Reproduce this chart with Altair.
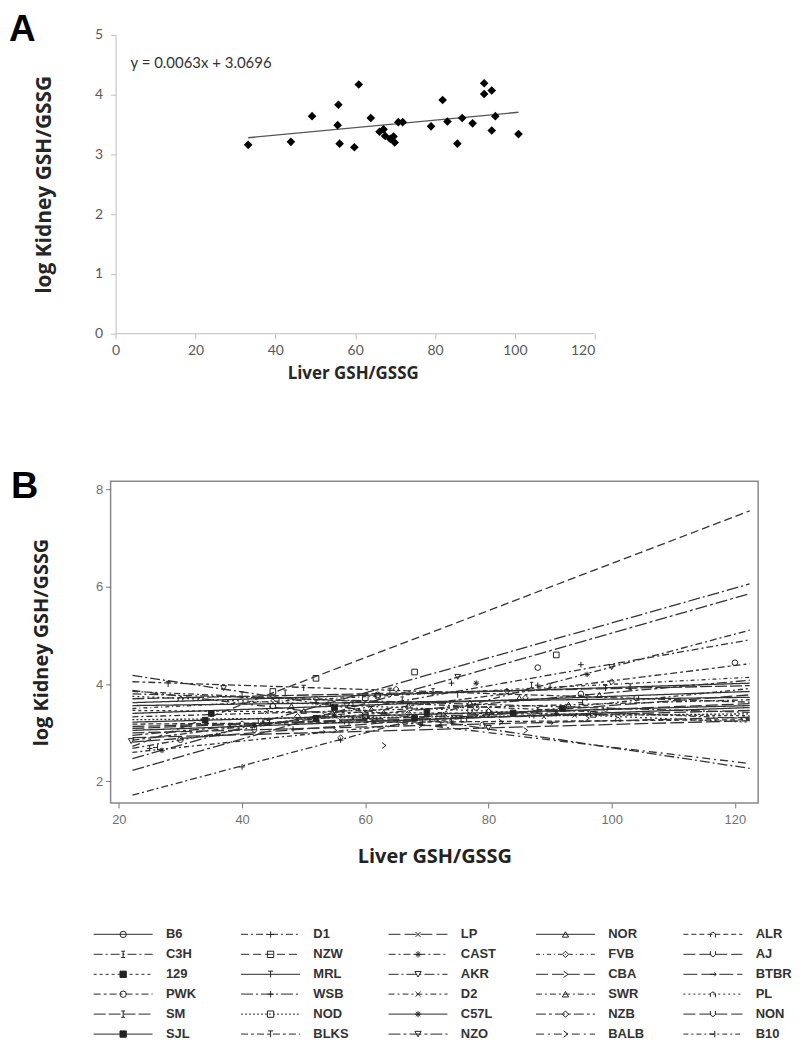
import altair as alt
import pandas as pd

FONT = "Lato"
TITLE_FONT = "Open Sans"
LETTER_FONT = "Liberation Sans"

# ---------------- Panel A data ----------------
a_liver = [33.2, 43.9, 49.2, 55.8, 55.6, 56.1, 59.8, 60.9, 63.9, 66.1, 67.1, 67.5, 68.8, 69.6, 69.9,
           70.8, 71.9, 79.0, 81.9, 83.1, 85.6, 86.8, 89.4, 92.3, 92.3, 94.2, 95.1, 94.2, 100.9]
a_kidney = [3.16, 3.21, 3.64, 3.83, 3.49, 3.18, 3.12, 4.17, 3.61, 3.38, 3.42, 3.31, 3.26, 3.30, 3.20,
            3.54, 3.54, 3.47, 3.91, 3.55, 3.18, 3.61, 3.52, 4.19, 4.01, 4.07, 3.64, 3.40, 3.34]
a_slope = 0.0063
a_intercept = 3.0696
a_equation = "y = 0.0063x + 3.0696"
a_xticks = [0, 20, 40, 60, 80, 100, 120]
a_yticks = [0, 1, 2, 3, 4, 5]

# ---------------- Panel B data ----------------
strains = ["B6", "C3H", "129", "PWK", "SM", "SJL",
           "D1", "NZW", "MRL", "WSB", "NOD", "BLKS",
           "LP", "CAST", "AKR", "D2", "C57L", "NZO",
           "NOR", "FVB", "CBA", "SWR", "NZB", "BALB",
           "ALR", "AJ", "BTBR", "PL", "NON", "B10"]
b_xticks = [20, 40, 60, 80, 100, 120]
b_yticks = [2, 4, 6, 8]
fit_x = [22.2, 122.4]
fit_left = [3.56, 3.80, 3.46, 2.85, 3.70, 3.22,
            1.72, 2.72, 3.62, 2.47, 3.27, 4.05,
            3.13, 2.68, 4.18, 3.85, 3.05, 2.23,
            3.40, 3.50, 3.00, 3.33, 2.95, 3.87,
            3.18, 3.09, 2.90, 3.75, 2.81, 2.60]
fit_right = [3.73, 3.42, 3.35, 4.42, 3.97, 3.56,
             5.11, 7.56, 4.02, 6.06, 3.39, 3.63,
             3.46, 4.91, 2.27, 3.29, 3.52, 5.86,
             3.85, 4.14, 3.32, 3.68, 4.08, 2.37,
             3.27, 3.60, 3.25, 3.22, 3.78, 3.91]

b_points = {
    "B6": [(45, 3.55), (62, 3.75), (78, 3.52), (95, 3.80)],
    "C3H": [(40, 3.78), (58, 3.60), (71, 3.85), (88, 3.46)],
    "129": [(35, 3.40), (55, 3.52), (68, 3.30), (84, 3.41)],
    "PWK": [(30, 2.86), (62, 3.78), (88, 4.34), (120, 4.44)],
    "SM": [(47, 3.82), (66, 3.68), (87, 3.98), (103, 3.95)],
    "SJL": [(34, 3.26), (52, 3.30), (70, 3.42), (92, 3.50)],
    "D1": [(40, 2.30), (56, 2.85), (70, 3.35), (88, 3.98)],
    "NZW": [(45, 3.85), (52, 4.12), (60, 3.72), (68, 4.25), (91, 4.60)],
    "MRL": [(46, 3.66), (64, 3.86), (90, 3.96), (99, 3.92)],
    "WSB": [(25, 2.68), (52, 3.62), (74, 4.02), (95, 4.40)],
    "NOD": [(44, 3.22), (60, 3.35), (76, 3.28), (97, 3.38)],
    "BLKS": [(28, 4.00), (50, 3.92), (75, 3.78), (96, 3.72)],
    "LP": [(38, 3.14), (56, 3.25), (73, 3.38), (89, 3.33)],
    "CAST": [(27, 2.64), (55, 3.36), (78, 4.02), (96, 4.20)],
    "AKR": [(37, 3.92), (55, 3.45), (68, 3.28), (80, 3.10)],
    "D2": [(45, 3.70), (61, 3.52), (80, 3.50), (94, 3.36)],
    "C57L": [(42, 3.15), (58, 3.28), (74, 3.22), (91, 3.40)],
    "NZO": [(22, 2.83), (57, 3.56), (75, 4.15), (100, 4.35)],
    "NOR": [(48, 3.55), (67, 3.56), (85, 3.72), (98, 3.78)],
    "FVB": [(52, 3.70), (65, 3.90), (83, 3.86), (100, 4.05)],
    "CBA": [(55, 3.05), (69, 3.16), (82, 3.22), (96, 3.30)],
    "SWR": [(50, 3.45), (63, 3.42), (77, 3.62), (93, 3.58)],
    "NZB": [(49, 3.34), (56, 2.90), (67, 3.40), (86, 3.72)],
    "BALB": [(44, 3.45), (63, 2.74), (72, 3.20), (86, 3.05)],
    "ALR": [(40, 3.20), (57, 3.22), (79, 3.18), (101, 3.28)],
    "AJ": [(43, 3.22), (60, 3.30), (77, 3.44), (99, 3.48)],
    "BTBR": [(36, 2.96), (53, 3.02), (72, 3.15), (90, 3.20)],
    "PL": [(30, 3.70), (54, 3.60), (72, 3.38), (87, 3.35)],
    "NON": [(42, 3.05), (61, 3.30), (80, 3.42), (104, 3.70)],
    "B10": [(26, 2.70), (48, 3.08), (69, 3.20), (95, 3.62)],
}

# ---------------- styles ----------------
dashes = [[1, 0], [9, 3, 2, 3], [3, 3], [7, 3, 3, 3], [12, 3], [1, 0],
          [7, 3, 2, 3], [8, 4], [1, 0], [12, 3, 2, 3], [2, 2], [7, 3, 3, 3],
          [12, 4], [7, 3, 2, 3], [10, 3, 2, 3], [6, 3, 2, 3], [1, 0], [12, 3, 3, 3],
          [1, 0], [4, 3, 1, 3], [12, 4], [6, 3, 2, 3], [10, 3, 3, 3], [8, 4, 2, 4],
          [5, 3], [12, 4], [14, 4], [2, 3], [12, 4], [5, 3, 2, 3]]
IBEAM = "M-0.6,-1H0.6M0,-1V1M-0.6,1H0.6"
PLUS = "M-1,0H1M0,-1V1"
TEE = "M-0.8,-1H0.8M0,-1V1"
XMARK = "M-0.8,-0.8L0.8,0.8M-0.8,0.8L0.8,-0.8"
AST = "M-1,0H1M0,-1V1M-0.7,-0.7L0.7,0.7M-0.7,0.7L0.7,-0.7"
GT = "M-0.6,-1L0.8,0L-0.6,1"
NHOOK = "M-0.8,0.8V-0.1Q0,-1.3,0.8,-0.1V1"
CUP = "M-0.8,-1V0.1Q0,1.4,0.8,0.1V-1"
ARROW = "M-1,0H1M0.5,-0.6L1,0L0.5,0.6"
TACK = "M-1,0H0.6M0.6,-1V1"
shapes = ["circle", IBEAM, "square", "circle", IBEAM, "square",
          PLUS, "square", TEE, PLUS, "square", TEE,
          XMARK, AST, "triangle-down", XMARK, AST, "triangle-down",
          "triangle-up", "diamond", GT, "triangle-up", "diamond", GT,
          NHOOK, CUP, ARROW, NHOOK, CUP, TACK]
fills = ["#222" if s in ("129", "SJL") else "transparent" for s in strains]

dash_scale = alt.Scale(domain=strains, range=dashes)
shape_scale = alt.Scale(domain=strains, range=shapes)
fill_scale = alt.Scale(domain=strains, range=fills)

# ---------------- Panel A ----------------
dfa = pd.DataFrame({"liver": a_liver, "kidney": a_kidney})
xa = [min(a_liver), max(a_liver)]
dfa_line = pd.DataFrame({"liver": xa, "kidney": [a_slope * v + a_intercept for v in xa]})
dfa_axis = pd.DataFrame({"liver": [a_xticks[0]], "liver2": [a_xticks[-1]], "kidney": [a_yticks[0]]})

ax_common = dict(grid=False, domainColor="#bfbfbf", tickColor="#bfbfbf", tickSize=5,
                 labelFontSize=14, labelColor="#595959", labelFont=FONT,
                 titleFont=TITLE_FONT, titleFontWeight="bold", titleColor="#262626")
xA = alt.X("liver:Q", scale=alt.Scale(domain=[-1.25, 120], nice=False, zero=False),
           axis=alt.Axis(values=a_xticks, title="Liver GSH/GSSG", domain=False,
                         labelPadding=5, titlePadding=8, titleFontSize=17, **ax_common))
yA = alt.Y("kidney:Q", scale=alt.Scale(domain=[0, 5], nice=False),
           axis=alt.Axis(values=a_yticks, title="log Kidney GSH/GSSG", offset=-5,
                         labelPadding=8, titlePadding=40, titleFontSize=21, **ax_common))

a_xline = alt.Chart(dfa_axis).mark_rule(color="#bfbfbf", strokeWidth=1).encode(
    x=xA, x2="liver2:Q", y=yA)
a_pts = alt.Chart(dfa).mark_point(shape="diamond", filled=True, size=75, color="#000", opacity=1).encode(x=xA, y=yA)
a_fit = alt.Chart(dfa_line).mark_line(color="#555", strokeWidth=1.3).encode(x=xA, y=yA)
a_eq = alt.Chart(pd.DataFrame({"t": [a_equation]})).mark_text(
    align="left", baseline="middle", fontSize=15, font=FONT, color="#333"
).encode(x=alt.value(20), y=alt.value(28), text="t:N")
a_lab = alt.Chart(pd.DataFrame({"t": ["A"]})).mark_text(
    align="left", baseline="top", fontSize=37, font=LETTER_FONT, fontWeight="bold", color="#000"
).encode(x=alt.value(-102), y=alt.value(-23), text="t:N")

panelA = alt.layer(a_xline, a_fit, a_pts, a_eq, a_lab).properties(
    width=486, height=300, view=alt.ViewBackground(stroke="transparent"))

# ---------------- Panel B ----------------
line_rows = []
for s, yl, yr in zip(strains, fit_left, fit_right):
    line_rows.append({"strain": s, "liver": fit_x[0], "kidney": yl})
    line_rows.append({"strain": s, "liver": fit_x[1], "kidney": yr})
dfb_lines = pd.DataFrame(line_rows)
pt_rows = [{"strain": s, "liver": x, "kidney": y} for s in strains for (x, y) in b_points[s]]
dfb_pts = pd.DataFrame(pt_rows)

bx_common = dict(grid=False, domain=False, tickColor="#777", tickSize=5,
                 labelFontSize=13, labelColor="#707070", labelFont="Liberation Sans",
                 titleFont=TITLE_FONT, titleFontSize=20, titleFontWeight="bold", titleColor="#222")
xB = alt.X("liver:Q", scale=alt.Scale(domain=[18.66, 123.77], nice=False, zero=False),
           axis=alt.Axis(values=b_xticks, title="Liver GSH/GSSG",
                         labelPadding=6, titlePadding=20, **bx_common))
yB = alt.Y("kidney:Q", scale=alt.Scale(domain=[1.56, 8.17], nice=False, zero=False),
           axis=alt.Axis(values=b_yticks, title="log Kidney GSH/GSSG",
                         labelPadding=3, titlePadding=44, **bx_common))

b_lines = alt.Chart(dfb_lines).mark_line(color="#333", strokeWidth=1.3).encode(
    x=xB, y=yB, detail="strain:N",
    strokeDash=alt.StrokeDash("strain:N", scale=dash_scale, legend=None))
b_pts = alt.Chart(dfb_pts).mark_point(filled=False, size=32, stroke="#222", strokeWidth=1, opacity=1).encode(
    x=xB, y=yB,
    shape=alt.Shape("strain:N", scale=shape_scale, legend=None),
    fill=alt.Fill("strain:N", scale=fill_scale, legend=None))
b_lab = alt.Chart(pd.DataFrame({"t": ["B"]})).mark_text(
    align="left", baseline="top", fontSize=38, font=LETTER_FONT, fontWeight="bold", color="#000"
).encode(x=alt.value(-100), y=alt.value(-13), text="t:N")

panelB = alt.layer(b_lines, b_pts, b_lab).properties(
    width=650, height=323, view=alt.ViewBackground(stroke="#888", strokeWidth=1.5))

# ---------------- Legend ----------------
leg_rows = [{"strain": s, "col": i // 6, "row": i % 6} for i, s in enumerate(strains)]
dfl = pd.DataFrame(leg_rows)
lx = alt.Scale(domain=[0, 4], range=[-17, 575])
ly = alt.Scale(domain=[0, 5], range=[-16, 84])
leg_base = alt.Chart(dfl).transform_calculate(
    xe="datum.col + 0.4", xm="datum.col + 0.2", xt="datum.col + 0.49")
leg_rule = leg_base.mark_rule(color="#555", strokeWidth=1.3).encode(
    x=alt.X("col:Q", scale=lx, axis=None), x2="xe:Q",
    y=alt.Y("row:Q", scale=ly, axis=None),
    strokeDash=alt.StrokeDash("strain:N", scale=dash_scale, legend=None))
leg_pt = leg_base.mark_point(filled=False, size=40, stroke="#222", strokeWidth=1, opacity=1).encode(
    x=alt.X("xm:Q", scale=lx, axis=None),
    y=alt.Y("row:Q", scale=ly, axis=None),
    shape=alt.Shape("strain:N", scale=shape_scale, legend=None),
    fill=alt.Fill("strain:N", scale=fill_scale, legend=None))
leg_txt = leg_base.mark_text(align="left", baseline="middle", fontSize=13, font=LETTER_FONT,
                             fontWeight="bold", color="#333").encode(
    x=alt.X("xt:Q", scale=lx, axis=None),
    y=alt.Y("row:Q", scale=ly, axis=None),
    text="strain:N")
legend = alt.layer(leg_rule, leg_pt, leg_txt).properties(
    width=650, height=84, view=alt.ViewBackground(stroke="transparent"))

chart = alt.vconcat(panelA, panelB, legend, spacing=148, bounds="flush").properties(
    padding={"left": 0, "top": 0, "right": 0, "bottom": 0}
).configure(background="white")

chart.save("out.html", embed_options={"renderer": "svg", "actions": False})
